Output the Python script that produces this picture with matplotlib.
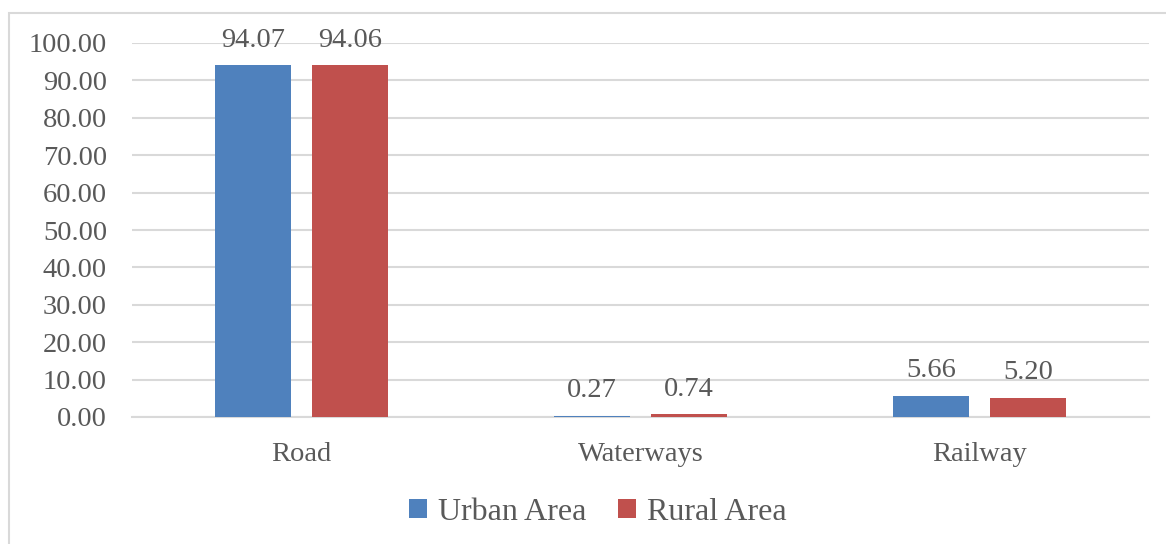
import matplotlib
matplotlib.use("Agg")
import matplotlib.pyplot as plt
from matplotlib.patches import Rectangle
import numpy as np

categories = ["Road", "Waterways", "Railway"]
urban = [94.07, 0.27, 5.66]
rural = [94.06, 0.74, 5.20]
series_names = ["Urban Area", "Rural Area"]
y_ticks = [0, 10, 20, 30, 40, 50, 60, 70, 80, 90, 100]

plt.rcParams["font.family"] = ["Liberation Serif", "DejaVu Serif"]
text_color = "#595959"
grid_color = "#D9D9D9"
blue = "#4F81BD"
red = "#C0504D"

fig = plt.figure(figsize=(11.66, 5.44), dpi=100)
ax = fig.add_axes([132 / 1166, 127 / 544, 1017 / 1166, 374 / 544])

# outer chart border (extends past the right and bottom edges)
fig.patches.append(Rectangle((9 / 1166, -0.05), 1.2, 1 - 13 / 544 + 0.05,
                             transform=fig.transFigure, fill=False,
                             edgecolor=grid_color, linewidth=1.5))

x = np.arange(len(categories))
w = 0.224
off = 0.143
b1 = ax.bar(x - off, urban, w, color=blue, label=series_names[0], zorder=3)
b2 = ax.bar(x + off, rural, w, color=red, label=series_names[1], zorder=3)

for bars, vals in ((b1, urban), (b2, rural)):
    for rect, v in zip(bars, vals):
        ax.annotate(f"{v:.2f}", (rect.get_x() + rect.get_width() / 2, v),
                    xytext=(0, 9), textcoords="offset points",
                    ha="center", va="bottom", fontsize=20.5, color=text_color)

ax.set_xlim(-0.5, len(categories) - 0.5)
ax.set_ylim(0, 100)
ax.set_yticks(y_ticks)
ax.set_yticklabels([f"{t:.2f}" for t in y_ticks])
ax.set_xticks(x)
ax.set_xticklabels(categories)
ax.tick_params(axis="y", length=0, pad=18, labelsize=20.5, labelcolor=text_color)
ax.tick_params(axis="x", length=0, pad=18, labelsize=20.5, labelcolor=text_color)
ax.yaxis.grid(True, color=grid_color, linewidth=1.5, zorder=0)
ax.set_axisbelow(True)
for s in ("top", "right", "left"):
    ax.spines[s].set_visible(False)
ax.spines["bottom"].set_color(grid_color)
ax.spines["bottom"].set_linewidth(1.5)

fig.legend(handles=[b1, b2], loc="center", bbox_to_anchor=(598 / 1166, 1 - 512 / 544),
           ncol=2, frameon=False, fontsize=23, labelcolor=text_color,
           handlelength=0.55, handleheight=0.55, handletextpad=0.35, columnspacing=1.0)

fig.savefig("out.png", dpi=100)
